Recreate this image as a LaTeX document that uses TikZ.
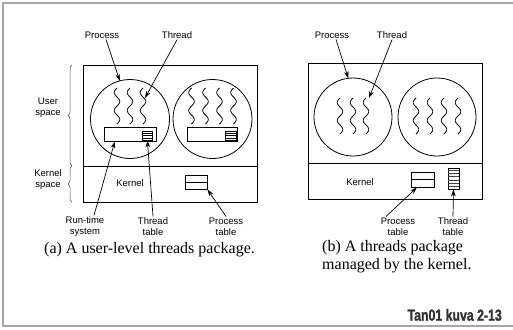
\documentclass[tikz,border=0pt]{standalone}
\usepackage{fontspec}
\setmainfont{Liberation Serif}
\setsansfont{Liberation Sans}
\newfontfamily\tagfont{Liberation Sans Bold}[FakeBold=1.5]
\usepackage{graphicx}
\usepackage{tikz}
\usetikzlibrary{positioning,arrows.meta,calc,decorations.pathreplacing}
\tikzset{
  space/.style={draw, line width=0.9pt, minimum width=174pt, inner sep=0pt, outer sep=0pt},
  proc/.style={circle, draw, line width=0.8pt, minimum size=79pt, inner sep=0pt, outer sep=0pt},
  rts/.style={draw, line width=0.8pt, minimum height=14pt, inner sep=0pt},
  tbl/.style={draw, line width=0.8pt, inner sep=0pt},
  lbl/.style={font=\sffamily\fontsize{9.5}{11}\selectfont, align=center, inner sep=1pt},
  ptr/.style={-{Stealth[length=7pt,width=4.5pt]}, line width=0.7pt},
  brc/.style={decorate, decoration={brace, amplitude=4pt}, line width=0.5pt, black!70},
  caption/.style={font=\fontsize{16}{17.5}\selectfont, align=left, inner sep=0pt},
  frame/.style={draw=black!35, line width=1.5pt},
  thread/.pic={\draw[line width=0.8pt, line join=round] plot[domain=0:36, samples=49, smooth]
                 ({-2.8*sin(20*\x)}, \x);},
}

\begin{document}
\begin{tikzpicture}[x=1pt,y=-1pt]
  \useasboundingbox (0,0) rectangle (513,329);
  \draw[frame] (3,3) rectangle (540,326);

  % (a) user-level threads
  \node[space, minimum height=101pt] (userA) at (170,115.5) {};
  \node[space, minimum height=36pt, below=0pt of userA] (kernA) {};
  \node[proc] (circA1) at (130,119) {};
  \node[proc, right=3.5pt of circA1] (circA2) {};
  \foreach \dx in {-13,0,13} \pic at ($(circA1)+(\dx,-31)$) {thread};
  \foreach \dx in {-21,-7,7,21} \pic at ($(circA2)+(\dx,-31)$) {thread};
  \node[rts, minimum width=52pt] (rtsA1) at ($(circA1)+(0,15)$) {};
  \node[rts, minimum width=50pt] (rtsA2) at ($(circA2)+(0,15)$) {};
  \node[tbl, minimum width=10pt, minimum height=9pt] (ttA1) at ($(rtsA1.east)+(-9,1.5)$) {};
  \node[tbl, minimum width=11pt, minimum height=9pt] (ttA2) at ($(rtsA2.east)+(-7,1.5)$) {};
  \foreach \t in {ttA1,ttA2}
    \foreach \k in {0.25,0.5,0.75}
      \draw[line width=0.6pt] ($(\t.north west)!\k!(\t.south west)$) -- ($(\t.north east)!\k!(\t.south east)$);
  \node[lbl] (kerA) at (130,183) {Kernel};
  \node[tbl, minimum width=22pt, minimum height=14pt] (ptA) at (196,182) {};
  \draw[line width=0.8pt] (ptA.west) -- (ptA.east);

  \node[lbl] (procA) at (102,35) {Process};
  \node[lbl] (thrLblA) at (177,35) {Thread};
  \coordinate (thrA) at (145,98);
  \node[lbl] (usrLbl) at (48,108) {User\\space};
  \node[lbl] (kspLbl) at (48,180) {Kernel\\space};
  \node[lbl] (rtsLbl) at (85,226.5) {Run-time\\system};
  \node[lbl] (ttLblA) at (153,226.5) {Thread\\table};
  \node[lbl] (ptLblA) at (226,226.5) {Process\\table};

  \draw[brc] ([xshift=-11pt]userA.south west) -- ([xshift=-11pt]userA.north west);
  \draw[brc] ([xshift=-11pt]kernA.south west) -- ([xshift=-11pt]kernA.north west);

  \draw[ptr] ([xshift=4pt]procA.south) -- (circA1.105);
  \draw[ptr] (thrLblA.south) -- (thrA);
  \draw[ptr] ([xshift=9pt]rtsLbl.north) -- (rtsA1.206);
  \draw[ptr] (ttLblA.north) -- (ttA1.south);
  \draw[ptr] (ptLblA.north) -- (ptA.south east);

  % (b) threads managed by the kernel
  \node[space, minimum height=100pt] (userB) at (395,113) {};
  \node[space, minimum height=36pt, below=0pt of userB] (kernB) {};
  \node[proc, minimum size=78pt] (circB1) at (353,117) {};
  \node[proc, minimum size=78pt, right=6pt of circB1] (circB2) {};
  \foreach \dx in {-13,0,13} \pic at ($(circB1)+(\dx,-19)$) {thread};
  \foreach \dx in {-21,-7,7,21} \pic at ($(circB2)+(\dx,-19)$) {thread};
  \node[lbl] (kerB) at (360,182) {Kernel};
  \node[tbl, minimum width=23pt, minimum height=15pt] (ptB) at (422.5,179.5) {};
  \draw[line width=0.8pt] (ptB.west) -- (ptB.east);
  \node[tbl, minimum width=11pt, minimum height=21pt] (ttB) at (453.5,178.5) {};
  \foreach \k in {1,...,6}
    \draw[line width=0.9pt, black!75] ($(ttB.north west)!\k/7!(ttB.south west)$) -- ($(ttB.north east)!\k/7!(ttB.south east)$);

  \node[lbl] (procB) at (332,35) {Process};
  \node[lbl] (thrLblB) at (392,35) {Thread};
  \coordinate (thrB) at (369,98);
  \node[lbl] (ptLblB) at (398,226.5) {Process\\table};
  \node[lbl] (ttLblB) at (453,226.5) {Thread\\table};

  \draw[ptr] ([xshift=4pt]procB.south) -- (circB1.97);
  \draw[ptr] (thrLblB.south) -- (thrB);
  \draw[ptr] ([xshift=-12pt]ptLblB.north) -- (ptB.235);
  \draw[ptr] (ttLblB.north) -- (ttB.south);

  % captions
  \node[caption, anchor=west] (capA) at (44,250) {(a) A user-level threads package.};
  \node[caption, anchor=west] (capB) at (322,256.5) {(b) A threads package\\managed by the kernel.};
  \node[font=\tagfont\fontsize{16}{18}\selectfont, text=black!80, anchor=east, inner sep=0pt] (tag) at (502,315) {\scalebox{0.77}[1]{Tan01 kuva 2-13}};
\end{tikzpicture}
\end{document}
